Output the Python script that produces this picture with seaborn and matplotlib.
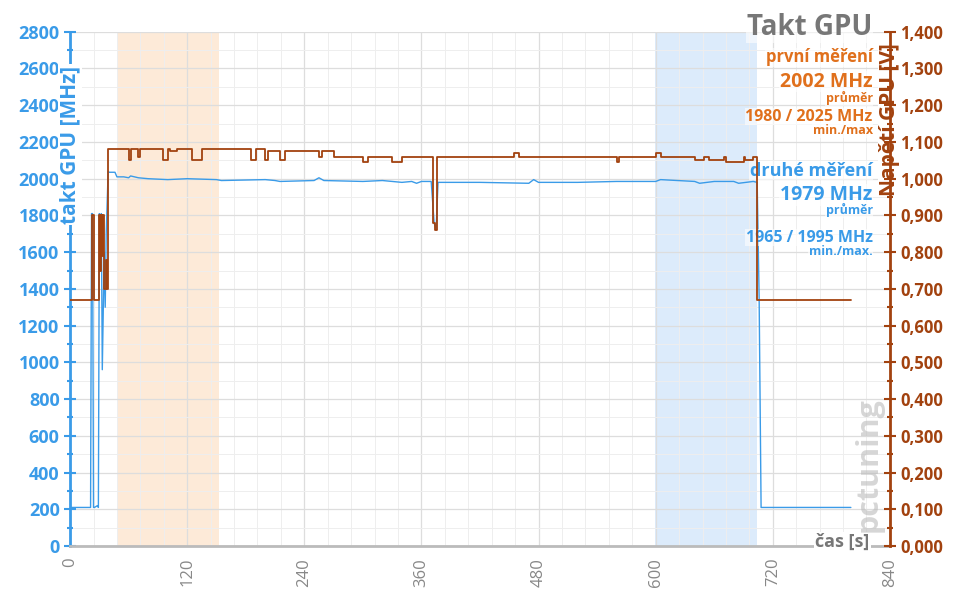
import matplotlib
matplotlib.use("Agg")
import matplotlib.pyplot as plt
import seaborn as sns
import pandas as pd
from matplotlib.ticker import MultipleLocator, FuncFormatter

# clock (MHz) breakpoints
clk_t = [0, 21, 22, 23, 24, 25, 28, 29, 30, 31, 32, 33, 35, 36, 37, 39, 40, 46, 48, 55, 60, 62, 70, 80, 100, 120, 150, 155, 200, 210, 215, 250, 255, 260, 300, 320, 340, 350, 355, 360, 370, 373, 375, 377, 380, 420, 470, 475, 480, 520, 560, 600, 605, 640, 645, 660, 680, 685, 700, 704, 706, 708, 800]
clk_v = [210, 210, 1810, 1810, 210, 210, 220, 210, 1810, 1500, 1810, 960, 1600, 1300, 1700, 2040, 2035, 2035, 2010, 2010, 2005, 2015, 2005, 2000, 1995, 2000, 1995, 1990, 1995, 1990, 1985, 1990, 2005, 1990, 1985, 1990, 1980, 1985, 1975, 1985, 1985, 1760, 1720, 1980, 1980, 1980, 1975, 1995, 1980, 1980, 1985, 1985, 1995, 1985, 1975, 1985, 1985, 1975, 1985, 1980, 1350, 210, 210]

# voltage (V) breakpoints (step values)
vol_t = [0, 22, 24, 30, 31, 32, 33, 34, 35, 37, 38, 39, 60, 62, 70, 72, 95, 100, 102, 110, 125, 135, 185, 190, 200, 203, 215, 220, 255, 258, 270, 300, 305, 330, 340, 372, 374, 376, 378, 455, 460, 560, 562, 600, 605, 640, 650, 655, 670, 672, 690, 692, 700, 704, 800]
vol_v = [0.670, 0.900, 0.670, 0.900, 0.750, 0.900, 0.790, 0.900, 0.700, 0.780, 0.700, 1.080, 1.050, 1.080, 1.060, 1.080, 1.050, 1.080, 1.075, 1.080, 1.050, 1.080, 1.050, 1.080, 1.050, 1.075, 1.050, 1.075, 1.060, 1.075, 1.060, 1.045, 1.060, 1.045, 1.060, 0.880, 0.860, 1.060, 1.060, 1.070, 1.060, 1.045, 1.060, 1.070, 1.060, 1.050, 1.060, 1.050, 1.060, 1.045, 1.060, 1.050, 1.060, 0.670, 0.670]

orange_band = (49, 153)
blue_band = (599, 704)

BLUE = "#3a9be8"
BROWN = "#a2420f"
ORANGE = "#e0701c"
GRAY = "#777777"
FONT = "Open Sans"

sns.set_style("white")
plt.rcParams["font.family"] = FONT
fig = plt.figure(figsize=(9.6, 6.05), dpi=100)
ax = fig.add_axes([0.073, 0.0975, 0.854, 0.85])
ax2 = ax.twinx()

ax.axvspan(*orange_band, color="#fde5cf", alpha=0.8, lw=0, zorder=0)
ax.axvspan(*blue_band, color="#d9e9fb", alpha=0.9, lw=0, zorder=0)

sns.lineplot(x=clk_t, y=clk_v, ax=ax, color=BLUE, lw=1.0, zorder=3)
sns.lineplot(x=vol_t, y=vol_v, ax=ax2, color=BROWN, lw=1.3, zorder=3, drawstyle="steps-post")

ax.set_xlim(0, 840)
ax.set_ylim(0, 2800)
ax2.set_ylim(0, 1.4)
ax.xaxis.set_major_locator(MultipleLocator(120))
ax.xaxis.set_minor_locator(MultipleLocator(24))
ax.yaxis.set_major_locator(MultipleLocator(200))
ax.yaxis.set_minor_locator(MultipleLocator(100))
ax2.yaxis.set_major_locator(MultipleLocator(0.1))
ax2.yaxis.set_minor_locator(MultipleLocator(0.05))
ax.grid(True, which="major", color="#dddddd", lw=0.9)
ax.grid(True, which="minor", color="#eeeeee", lw=0.7)
ax.set_axisbelow(True)

for s in ["top", "right"]:
    ax.spines[s].set_visible(False)
ax2.spines["top"].set_visible(False)
ax2.spines["left"].set_visible(False)
ax.spines["left"].set_color(BLUE); ax.spines["left"].set_linewidth(2)
ax.spines["bottom"].set_color("#bbbbbb"); ax.spines["bottom"].set_linewidth(2)
ax2.spines["right"].set_color(BROWN); ax2.spines["right"].set_linewidth(2)
ax2.spines["bottom"].set_visible(False)

ax.tick_params(axis="y", which="both", colors=BLUE, direction="inout", length=8, width=1.5, labelsize=13)
ax.tick_params(axis="y", which="minor", length=5)
ax2.tick_params(axis="y", which="both", colors=BROWN, direction="inout", length=8, width=1.5, labelsize=12)
ax2.tick_params(axis="y", which="minor", length=5)
ax.tick_params(axis="x", which="both", colors="#aaaaaa", length=5, labelsize=12, labelcolor="#888888")
for lab in ax.get_yticklabels():
    lab.set_fontweight("bold")
for lab in ax2.get_yticklabels():
    lab.set_fontweight("bold")
ax2.yaxis.set_major_formatter(FuncFormatter(lambda v, p: f"{v:.3f}".replace(".", ",")))
plt.setp(ax.get_xticklabels(), rotation=90)

ax.text(0.0, 0.78, "takt GPU [MHz]", transform=ax.transAxes, rotation=90, ha="center", va="center",
        color=BLUE, fontsize=15, fontweight="bold", zorder=10,
        bbox=dict(fc="white", ec="none", pad=1))
ax.text(1.0, 0.83, "Napětí GPU [V]", transform=ax.transAxes, rotation=90, ha="center", va="center",
        color=BROWN, fontsize=15, fontweight="bold", zorder=10,
        bbox=dict(fc="white", ec="none", pad=1))
ax.text(0.975, -0.01, "čas [s]", transform=ax.transAxes, ha="right", va="bottom",
        color=GRAY, fontsize=13, fontweight="bold", bbox=dict(fc="white", ec="none", pad=1))

def t(x, y, s, c, size, w="bold"):
    ax.text(x, y, s, transform=fig.transFigure, ha="right", va="center", color=c,
            fontsize=size, fontweight=w, zorder=10,
            bbox=dict(fc="white", ec="none", alpha=0.6, pad=0.5))

X = 0.909
t(X, 0.955, "Takt GPU", GRAY, 20)
t(X, 0.905, "první měření", ORANGE, 12)
t(X, 0.865, "2002 MHz", ORANGE, 14)
t(X, 0.838, "průměr", ORANGE, 9)
t(X, 0.807, "1980 / 2025 MHz", ORANGE, 11.5)
t(X, 0.784, "min./max", ORANGE, 9)
t(X, 0.718, "druhé měření", BLUE, 13)
t(X, 0.678, "1979 MHz", BLUE, 14)
t(X, 0.653, "průměr", BLUE, 9)
t(X, 0.607, "1965 / 1995 MHz", BLUE, 11.5)
t(X, 0.585, "min./max.", BLUE, 9)

fig.text(0.905, 0.12, "pctuning", rotation=90, color="#bbbbbb", fontsize=22,
         fontweight="bold", ha="center", va="bottom", alpha=0.6)

fig.savefig("out.png", dpi=100)
